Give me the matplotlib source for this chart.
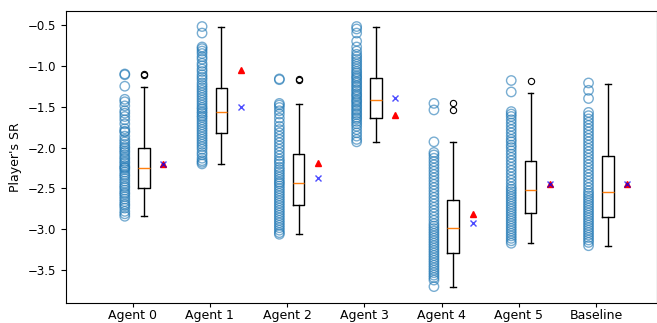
import matplotlib
matplotlib.use('Agg')
import matplotlib.pyplot as plt

labels = ['Agent 0', 'Agent 1', 'Agent 2', 'Agent 3', 'Agent 4', 'Agent 5', 'Baseline']

# per-agent SR samples
agent0 = [-1.10, -1.11, -1.25, -1.41, -1.44, -1.49, -1.55, -1.58, -1.62, -1.66, -1.71, -1.77, -1.80,
          -1.81, -1.86, -1.90, -1.93, -1.96, -1.99, -2.01, -2.04, -2.06, -2.09, -2.12, -2.14, -2.17,
          -2.19, -2.22, -2.24, -2.25, -2.27, -2.30, -2.33, -2.35, -2.38, -2.41, -2.44, -2.47, -2.49,
          -2.52, -2.55, -2.57, -2.60, -2.63, -2.66, -2.69, -2.71, -2.74, -2.78, -2.81, -2.84]
agent1 = [-0.52, -0.60, -0.77, -0.79, -0.82, -0.85, -0.89, -0.92, -0.97, -1.00, -1.04, -1.07, -1.11,
          -1.14, -1.17, -1.21, -1.24, -1.27, -1.30, -1.33, -1.36, -1.39, -1.42, -1.45, -1.48, -1.51,
          -1.53, -1.56, -1.58, -1.61, -1.63, -1.66, -1.69, -1.72, -1.75, -1.78, -1.81, -1.84, -1.87,
          -1.90, -1.93, -1.96, -1.99, -2.02, -2.06, -2.09, -2.13, -2.16, -2.18, -2.20]
agent2 = [-1.16, -1.17, -1.46, -1.48, -1.51, -1.55, -1.59, -1.64, -1.69, -1.74, -1.78, -1.82, -1.86,
          -1.90, -1.94, -1.98, -2.02, -2.06, -2.10, -2.14, -2.17, -2.20, -2.24, -2.27, -2.30, -2.33,
          -2.36, -2.39, -2.42, -2.44, -2.47, -2.50, -2.53, -2.56, -2.59, -2.62, -2.65, -2.68, -2.71,
          -2.74, -2.77, -2.80, -2.83, -2.86, -2.89, -2.92, -2.95, -2.98, -3.01, -3.04, -3.06]
agent3 = [-0.52, -0.55, -0.60, -0.70, -0.77, -0.82, -0.86, -0.89, -0.92, -0.95, -0.98, -1.01, -1.04,
          -1.07, -1.09, -1.12, -1.14, -1.16, -1.19, -1.21, -1.24, -1.26, -1.29, -1.31, -1.34, -1.36,
          -1.38, -1.41, -1.43, -1.45, -1.48, -1.50, -1.53, -1.55, -1.58, -1.60, -1.63, -1.65, -1.68,
          -1.71, -1.74, -1.78, -1.82, -1.86, -1.90, -1.93]
agent4 = [-1.46, -1.54, -1.93, -2.06, -2.09, -2.13, -2.17, -2.21, -2.25, -2.29, -2.33, -2.37, -2.41,
          -2.45, -2.49, -2.53, -2.57, -2.61, -2.65, -2.69, -2.73, -2.77, -2.81, -2.85, -2.89, -2.93,
          -2.96, -2.99, -3.02, -3.05, -3.08, -3.11, -3.14, -3.17, -3.20, -3.23, -3.26, -3.29, -3.32,
          -3.35, -3.38, -3.41, -3.44, -3.47, -3.50, -3.53, -3.56, -3.59, -3.62, -3.70]
agent5 = [-1.18, -1.32, -1.56, -1.59, -1.62, -1.66, -1.70, -1.74, -1.78, -1.82, -1.86, -1.90, -1.93,
          -1.97, -2.00, -2.04, -2.08, -2.12, -2.16, -2.20, -2.24, -2.28, -2.32, -2.36, -2.40, -2.44,
          -2.48, -2.51, -2.54, -2.57, -2.60, -2.63, -2.66, -2.69, -2.72, -2.75, -2.78, -2.81, -2.84,
          -2.87, -2.90, -2.93, -2.96, -2.99, -3.02, -3.05, -3.08, -3.11, -3.14, -3.17]
baseline = [-1.21, -1.30, -1.40, -1.57, -1.61, -1.65, -1.69, -1.73, -1.77, -1.81, -1.85, -1.89, -1.93,
            -1.97, -2.01, -2.05, -2.09, -2.13, -2.17, -2.21, -2.25, -2.29, -2.33, -2.37, -2.41, -2.45,
            -2.49, -2.53, -2.56, -2.59, -2.62, -2.65, -2.68, -2.71, -2.74, -2.77, -2.80, -2.83, -2.86,
            -2.89, -2.92, -2.95, -2.98, -3.01, -3.04, -3.07, -3.10, -3.13, -3.16, -3.20]
samples = [agent0, agent1, agent2, agent3, agent4, agent5, baseline]

# box summary
medians = [-2.25, -1.56, -2.43, -1.42, -2.98, -2.52, -2.54]
q1 = [-2.50, -1.82, -2.70, -1.64, -3.29, -2.80, -2.85]
q3 = [-2.00, -1.27, -2.08, -1.15, -2.64, -2.16, -2.10]
whislo = [-2.84, -2.20, -3.06, -1.93, -3.70, -3.17, -3.20]
whishi = [-1.26, -0.53, -1.47, -0.53, -1.93, -1.33, -1.22]
fliers = [[-1.10, -1.11], [], [-1.16, -1.17], [], [-1.46, -1.54], [-1.18], []]

# extra markers next to each box
red_vals = [-2.20, -1.05, -2.19, -1.60, -2.81, -2.44, -2.45]
blue_vals = [-2.20, -1.50, -2.37, -1.39, -2.92, -2.44, -2.45]


def plot_sr(output):
    fig = plt.figure(figsize=(6.57, 3.23), dpi=100)
    ax = fig.add_axes([0.1005, 0.062, 0.9, 0.904])

    for i, vals in enumerate(samples):
        ax.scatter([i - 0.1] * len(vals), vals, s=46, facecolors='none',
                   edgecolors='C0', linewidths=1.0, alpha=0.6)

    stats = []
    for i in range(len(labels)):
        stats.append({'med': medians[i], 'q1': q1[i], 'q3': q3[i],
                      'whislo': whislo[i], 'whishi': whishi[i], 'fliers': fliers[i]})
    pos = [i + 0.15 for i in range(len(labels))]
    ax.bxp(stats, positions=pos, widths=0.15, manage_ticks=False,
           flierprops=dict(marker='o', markersize=4.5, markeredgewidth=0.8,
                           markeredgecolor='black'))

    mpos = [i + 0.4 for i in range(len(labels))]
    ax.plot(mpos, red_vals, '^', color='red', markersize=5, linestyle='none')
    ax.plot(mpos, blue_vals, 'x', color='blue', markersize=5, alpha=0.7, linestyle='none')

    ax.set_xticks(range(len(labels)))
    ax.set_xticklabels(labels, fontsize=9)
    ax.tick_params(axis='x', length=3, pad=1.5)
    ax.tick_params(axis='y', labelsize=8.5)
    ax.set_ylabel("Player's SR", fontsize=9)
    ax.set_xlim(-0.86, 6.79)
    ax.set_ylim(-3.90, -0.33)

    fig.savefig(output, dpi=100)


if __name__ == "__main__":
    plot_sr('out.png')
